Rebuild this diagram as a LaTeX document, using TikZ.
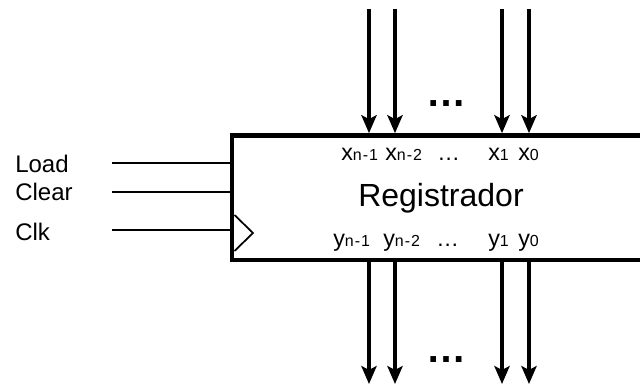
\documentclass[tikz,border=0pt]{standalone}
\usepackage{fontspec}
\setmainfont{Liberation Sans}
\usetikzlibrary{arrows.meta}
\newcommand\reglab[2]{{\fontsize{17.5}{19}\selectfont #1}{\fontsize{12}{13}\selectfont\addfontfeature{LetterSpace=6}#2}}
\begin{document}
\begin{tikzpicture}[x=0.75pt,y=-0.75pt,
  sig/.style={line width=2.3pt,-{Stealth[length=13.5pt,width=11.5pt,inset=3pt]}},
  ctl/.style={line width=2.1pt},
  lbl/.style={anchor=base west,inner sep=0pt,font=\fontsize{18}{20}\selectfont},
  pin/.style={anchor=base west,inner sep=0pt},
  dots/.style={anchor=base,inner sep=0pt,font=\bfseries\fontsize{30}{32}\selectfont}]
\fill[white] (0,0) rectangle (640,385);
\useasboundingbox (0,0) rectangle (640,385);
\clip (0,0) rectangle (640,385);
% register box
\node[draw,line width=3.5pt,minimum width=324.75pt,minimum height=93.4pt,inner sep=0pt] (reg) at (448.5,197.75) {};
\node[anchor=base,inner sep=0pt,font=\fontsize{24}{26}\selectfont] (name) at (441,206) {Registrador};
% clock triangle
\draw[line width=1.3pt,line join=miter] (234.5,215) -- (253,233) -- (234.5,251);
% control inputs
\node[lbl] (load) at (15,172) {Load};
\node[lbl] (clear) at (15,200) {Clear};
\node[lbl] (clk) at (15,240) {Clk};
\coordinate (cl) at (112,163);
\coordinate (cc) at (112,192);
\coordinate (ck) at (112,230);
\draw[ctl] (cl) -- (cl -| reg.west);
\draw[ctl] (cc) -- (cc -| reg.west);
\draw[ctl] (ck) -- (ck -| reg.west);
% inputs
\coordinate (i1) at (369,9);
\coordinate (i2) at (395,9);
\coordinate (i3) at (502,9);
\coordinate (i4) at (529,9);
\foreach \c in {i1,i2,i3,i4} \draw[sig] (\c) -- (\c |- reg.north);
\node[dots] (tdots) at (446,107) {…};
% outputs
\coordinate (o1) at (369,384);
\coordinate (o2) at (395,384);
\coordinate (o3) at (502,384);
\coordinate (o4) at (529,384);
\foreach \c in {o1,o2,o3,o4} \draw[sig] (reg.south -| \c) -- (\c);
\node[dots] (bdots) at (446,362) {…};
% pin labels
\node[pin] (x1) at (341,161) {\reglab{x}{n-1}};
\node[pin] (x2) at (385,161) {\reglab{x}{n-2}};
\node[pin] (xd) at (437,161) {\fontsize{17}{18}\selectfont …};
\node[pin] (x3) at (488,161) {\reglab{x}{1}};
\node[pin] (x4) at (518,161) {\reglab{x}{0}};
\node[pin] (y1) at (333,247) {\reglab{y}{n-1}};
\node[pin] (y2) at (383,247) {\reglab{y}{n-2}};
\node[pin] (yd) at (436,247) {\fontsize{17}{18}\selectfont …};
\node[pin] (y3) at (488,247) {\reglab{y}{1}};
\node[pin] (y4) at (518,247) {\reglab{y}{0}};
\end{tikzpicture}
\end{document}
